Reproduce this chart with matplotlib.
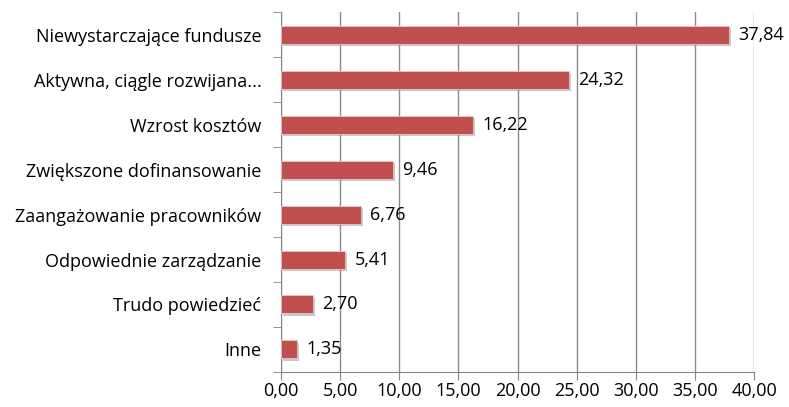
import matplotlib
matplotlib.use("Agg")
import matplotlib.pyplot as plt
import matplotlib.patheffects as pe
import numpy as np

#Categories from top to bottom, and the percentages next to them
categories = ["Niewystarczające fundusze", "Aktywna, ciągle rozwijana...", "Wzrost kosztów",
              "Zwiększone dofinansowanie", "Zaangażowanie pracowników", "Odpowiednie zarządzanie",
              "Trudo powiedzieć", "Inne"]
values = [37.84, 24.32, 16.22, 9.46, 6.76, 5.41, 2.70, 1.35]
xticks = [0, 5, 10, 15, 20, 25, 30, 35, 40]

plt.rcParams['font.family'] = ['Open Sans', 'DejaVu Sans']
fs = 13

fig = plt.figure(figsize=(7.89, 4.07), dpi=100)
ax = fig.add_axes([0.356, 0.086, 0.6, 0.8845])

#Bars go from the top, so we flip the positions
pos = np.arange(len(categories))[::-1]
bars = ax.barh(pos, values, height=0.4, color="#C0504D", edgecolor="#E8C8C8", linewidth=0.6, zorder=3)
for b in bars:
    b.set_path_effects([pe.SimplePatchShadow(offset=(1.5, -1.5), shadow_rgbFace="#777777", alpha=0.4), pe.Normal()])

for p, v in zip(pos, values):
    ax.text(v + 0.8, p, f"{v:.2f}".replace(".", ","), va="center", ha="left", fontsize=fs, zorder=4)

ax.set_xlim(0, 40)
ax.set_ylim(-0.5, len(categories) - 0.5)
ax.set_xticks(xticks)
ax.set_xticklabels([f"{t:.2f}".replace(".", ",") for t in xticks], fontsize=fs)
ax.set_yticks(pos)
ax.set_yticklabels(categories, fontsize=fs)
ax.set_yticks(np.arange(-0.5, len(categories), 1), minor=True)
ax.tick_params(axis="y", which="major", length=0, pad=14)
ax.tick_params(axis="y", which="minor", length=6, color="#868686", direction="out")
ax.tick_params(axis="x", length=6, color="#868686", direction="out", pad=1)

ax.grid(axis="x", color="#8C8C8C", linewidth=1, zorder=0)
ax.set_axisbelow(True)
for s in ["top", "right"]:
    ax.spines[s].set_visible(False)
ax.spines["left"].set_color("#868686")
ax.spines["bottom"].set_color("#868686")

fig.savefig("out.png", dpi=100)
